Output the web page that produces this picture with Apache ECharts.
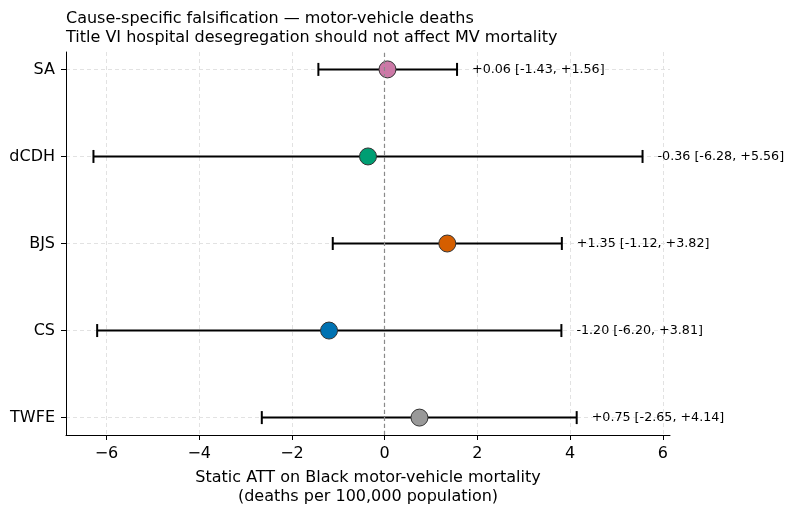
<!DOCTYPE html>
<html><head><meta charset="utf-8">
<script src="https://cdn.jsdelivr.net/npm/echarts@6/dist/echarts.min.js"></script>
<style>html,body{margin:0;padding:0;background:#fff}#c{width:785px;height:508px}</style>
</head><body><div id="c"></div>
<script>
const methods = ['TWFE', 'CS', 'BJS', 'dCDH', 'SA'];
const estimates = [0.75, -1.20, 1.35, -0.36, 0.06];
const lower = [-2.65, -6.20, -1.12, -6.28, -1.43];
const upper = [4.14, 3.81, 3.82, 5.56, 1.56];
const colors = ['#999999', '#0072B2', '#D55E00', '#009E73', '#CC79A7'];
const xTicks = [-6, -4, -2, 0, 2, 4, 6];
const yTicks = [0, 1, 2, 3, 4];

const FONT = 'DejaVu Sans';
const fmt = v => (v >= 0 ? '+' : '') + v.toFixed(2);
const labels = estimates.map((e, i) => fmt(e) + ' [' + fmt(lower[i]) + ', ' + fmt(upper[i]) + ']');

const xMin = -6.872, xMax = 6.152;

const chart = echarts.init(document.getElementById('c'), null, {renderer: 'canvas'});
chart.setOption({
  animation: false,
  backgroundColor: '#fff',
  textStyle: {fontFamily: FONT},
  title: {
    text: 'Cause-specific falsification — motor-vehicle deaths\nTitle VI hospital desegregation should not affect MV mortality',
    left: 66, top: 9, padding: 0,
    textStyle: {fontFamily: FONT, fontSize: 16, fontWeight: 'normal', color: '#000', lineHeight: 19}
  },
  grid: {left: 66, right: 115, top: 52, bottom: 73, outerBoundsMode: 'none', containLabel: false},
  xAxis: {
    type: 'value', min: xMin, max: xMax,
    name: 'Static ATT on Black motor-vehicle mortality\n(deaths per 100,000 population)',
    nameLocation: 'middle', nameGap: 33,
    nameTextStyle: {fontFamily: FONT, fontSize: 16, color: '#000', lineHeight: 19, verticalAlign: 'top'},
    axisLine: {show: true, onZero: false, lineStyle: {color: '#000', width: 1}},
    axisTick: {show: true, length: 5, lineStyle: {color: '#000'}, customValues: xTicks},
    axisLabel: {customValues: xTicks, fontFamily: FONT, fontSize: 16, color: '#000', margin: 11,
      formatter: v => (v < 0 ? '\u2212' + Math.abs(v) : String(v))},
    splitLine: {show: true, lineStyle: {color: '#e2e2e2', type: [4, 3], width: 1}}
  },
  yAxis: {
    type: 'value', min: -0.2, max: 4.2,
    axisLine: {show: true, onZero: false, lineStyle: {color: '#000', width: 1}},
    axisTick: {show: true, length: 5, lineStyle: {color: '#000'}, customValues: yTicks},
    axisLabel: {customValues: yTicks, fontFamily: FONT, fontSize: 16, color: '#000', margin: 11,
      formatter: v => methods[Math.round(v)] || ''},
    splitLine: {show: true, lineStyle: {color: '#e2e2e2', type: [4, 3], width: 1}}
  },
  series: [
    {
      type: 'line', data: [], silent: true,
      markLine: {
        silent: true, symbol: 'none', label: {show: false},
        lineStyle: {color: '#8a8a8a', type: [4, 3], width: 1.2},
        data: [{xAxis: 0}]
      }
    },
    {
      type: 'custom',
      silent: true,
      clip: false,
      data: methods.map((m, i) => [lower[i], upper[i], i, labels[i]]),
      encode: {x: [0, 1], y: 2},
      renderItem: function (params, api) {
        const lo = api.coord([api.value(0), api.value(2)]);
        const hi = api.coord([api.value(1), api.value(2)]);
        const cap = 6.5;
        const st = {stroke: '#000', lineWidth: 2};
        return {
          type: 'group',
          children: [
            {type: 'line', shape: {x1: lo[0], y1: lo[1], x2: hi[0], y2: hi[1]}, style: st},
            {type: 'line', shape: {x1: lo[0], y1: lo[1] - cap, x2: lo[0], y2: lo[1] + cap}, style: st},
            {type: 'line', shape: {x1: hi[0], y1: hi[1] - cap, x2: hi[0], y2: hi[1] + cap}, style: st},
            {type: 'text', x: hi[0] + 15, y: hi[1],
              style: {text: labels[params.dataIndex], fontFamily: FONT, fontSize: 12.7, fill: '#000',
                textAlign: 'left', textVerticalAlign: 'middle'}}
          ]
        };
      },
      z: 3
    },
    {
      type: 'scatter',
      data: estimates.map((e, i) => ({value: [e, i], itemStyle: {color: colors[i]}})),
      symbol: 'circle', symbolSize: 17,
      itemStyle: {borderColor: '#333', borderWidth: 1, opacity: 1},
      z: 4
    }
  ]
});
</script></body></html>
